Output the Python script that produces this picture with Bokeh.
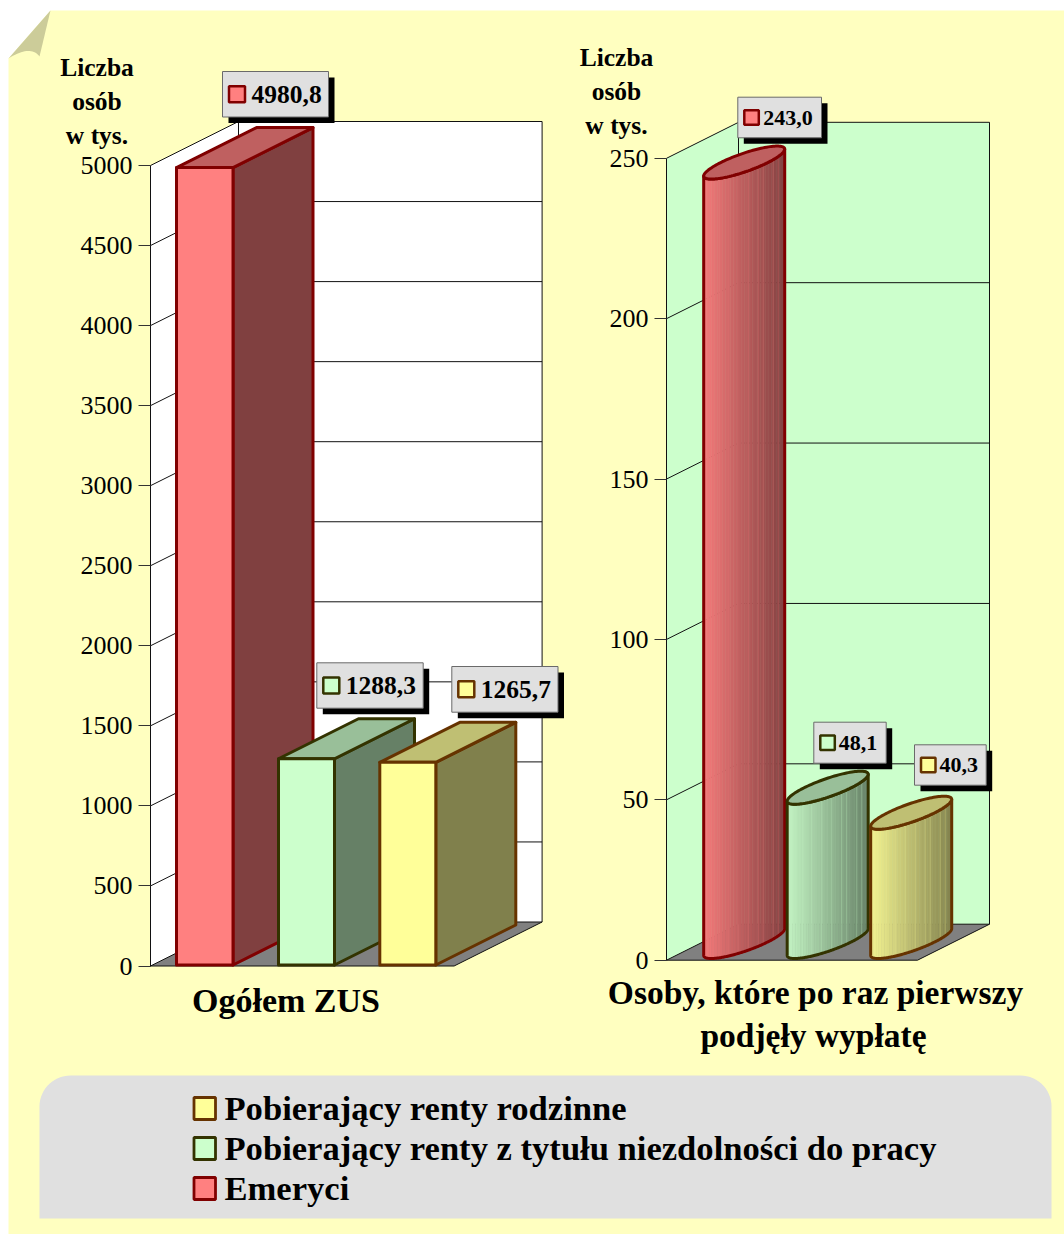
import numpy as np
from bokeh.plotting import figure
from bokeh.models import Range1d, LinearAxis, FixedTicker
from bokeh.core.properties import value
from bokeh.embed import file_html
from bokeh.resources import INLINE

# ---------- data ----------
series_names = ["Pobierający renty rodzinne", "Pobierający renty z tytułu niezdolności do pracy", "Emeryci"]
ogolem_zus = [4980.8, 1288.3, 1265.7]          # Emeryci, renty niezd., renty rodz.
pierwsza_wyplata = [243.0, 48.1, 40.3]
left_ticks = [0, 500, 1000, 1500, 2000, 2500, 3000, 3500, 4000, 4500, 5000]
right_ticks = [0, 50, 100, 150, 200, 250]
axis_title = ["Liczba", "osób", "w tys."]
left_title = ["Ogółem ZUS"]
right_title = ["Osoby, które po raz pierwszy", "podjęły wypłatę"]
fills = ["#FF8080", "#CCFFCC", "#FFFF99"]
edges = ["#800000", "#333300", "#663300"]

SERIF = value("Liberation Serif")
W, H = 1064, 1234


def rgb(c):
    return np.array([int(c[i:i + 2], 16) for i in (1, 3, 5)], float)


def shade(c, f):
    r = np.clip(rgb(c) * f, 0, 255).round().astype(int)
    return "#%02x%02x%02x" % tuple(r)


p = figure(width=W, height=H, x_range=Range1d(0, W), y_range=Range1d(H, 0),
           toolbar_location=None, output_backend="svg", min_border=0,
           x_axis_location=None, y_axis_location=None, outline_line_color=None,
           background_fill_color="white", border_fill_color="white")
p.grid.visible = False

# value scales of the two plots, expressed on the page
L0, LK = 965.5, 800.5 / 5000
R0, RK = 959.7, (959.7 - 157.8) / 250
p.extra_y_ranges["left"] = Range1d((L0 - H) / LK, L0 / LK)
p.extra_y_ranges["right"] = Range1d((R0 - H) / RK, R0 / RK)

# ---------- page ----------
p.patch([8, 50, 1064, 1064, 8], [58, 10, 10, 1234, 1234], fill_color="#FFFFC0", line_color=None)
t = np.linspace(0, 1, 20)
fx = list(50 - 11 * t) + list((1 - t) ** 2 * 39 + 2 * t * (1 - t) * 30 + t ** 2 * 8)
fy = list(10 + 46 * t) + list((1 - t) ** 2 * 56 + 2 * t * (1 - t) * 44 + t ** 2 * 58)
p.patch(fx, fy, fill_color="#CCCC99", line_color=None)

# ---------- legend panel ----------
a = np.linspace(np.pi, 1.5 * np.pi, 16)
r = 31
px = list(39 + r + r * np.cos(a)) + list(1051 - r - r * np.cos(a[::-1])) + [1051, 39]
py = list(1075 + r + r * np.sin(a)) + list(1075 + r + r * np.sin(a[::-1])) + [1218, 1218]
p.patch(px, py, fill_color="#E0E0E0", line_color=None)
for i, name in enumerate(series_names):
    k = 2 - i
    yc = 1108 + 40 * i
    p.quad(left=[193.5], right=[215], top=[yc - 11], bottom=[yc + 11], fill_color=fills[k],
           line_color=edges[k], line_width=2.8)
    p.text([224], [yc - 1], text=[name], text_font=SERIF, text_font_style="bold",
           text_font_size="34.6px", text_baseline="middle", text_align="left", text_color="black")


def walls(rng, x0, x1, xr, dx, top, dy_val, ticks, wall):
    """x0 front-left, x1 back-left, xr back-right, xf front-right"""
    xf = xr - dx
    kw = dict(y_range_name=rng)
    p.patch([x0, x1, x1, x0], [0, dy_val, top + dy_val, top], fill_color=wall, line_color=None, **kw)
    p.patch([x1, xr, xr, x1], [dy_val, dy_val, top + dy_val, top + dy_val], fill_color=wall,
            line_color=None, **kw)
    p.patch([x0, x1, xr, xf], [0, dy_val, dy_val, 0], fill_color="#808080", line_color=None, **kw)
    n = len(ticks)
    p.segment([x1] * n, [v + dy_val for v in ticks], [xr] * n, [v + dy_val for v in ticks],
              line_color="#111111", line_width=1, **kw)
    p.segment([x0] * n, list(ticks), [x1] * n, [v + dy_val for v in ticks],
              line_color="#111111", line_width=1, **kw)
    p.line([x1, x1], [dy_val, top + dy_val], line_color="#111111", line_width=1, **kw)
    p.line([xr, xr], [dy_val, top + dy_val], line_color="#111111", line_width=1, **kw)
    p.line([xf, xr], [0, dy_val], line_color="#111111", line_width=1, **kw)
    p.line([x0, xf], [0, 0], line_color="#111111", line_width=1, **kw)


def axis(rng, x, ticks):
    ax = LinearAxis(y_range_name=rng, fixed_location=x, ticker=FixedTicker(ticks=ticks),
                    bounds=(ticks[0], ticks[-1]))
    ax.major_tick_in = 0
    ax.major_tick_out = 12
    ax.minor_tick_line_color = None
    ax.major_tick_line_color = "#333333"
    ax.axis_line_color = "#111111"
    ax.major_label_text_font = "Liberation Serif"
    ax.major_label_text_font_size = "26px"
    ax.major_label_text_color = "black"
    ax.major_label_standoff = 6
    p.add_layout(ax, "left")


def tag(x0, x1, y0, y1, col, edge, label, size, sw, gap):
    p.quad(left=[x0 + 6], right=[x1 + 6], top=[y0 + 6], bottom=[y1 + 6], fill_color="black", line_color=None)
    p.quad(left=[x0], right=[x1], top=[y0], bottom=[y1], fill_color="#E0E0E0", line_color="#6a6a6a", line_width=1)
    yc = (y0 + y1) / 2
    p.quad(left=[x0 + 6.5], right=[x0 + 6.5 + sw], top=[yc - sw / 2], bottom=[yc + sw / 2],
           fill_color=col, line_color=edge, line_width=2.5)
    p.text([x0 + 6.5 + sw + gap], [yc], text=[label], text_font=SERIF, text_font_style="bold",
           text_font_size=size, text_baseline="middle", text_align="left", text_color="black")


# ---------- left plot ----------
walls("left", 150, 238, 541.6, 88, 5000, 44 / LK, left_ticks, "white")
base = 1 / LK
bar_x = [176, 278, 379.3]
bar_w = [56.5, 56, 56]
depth_x, depth_y = 80, 40 / LK
for v, x, w, f, e in zip(ogolem_zus, bar_x, bar_w, fills, edges):
    top = v + base
    kw = dict(y_range_name="left", line_color=e, line_width=3, line_join="round")
    p.patch([x + w, x + w + depth_x, x + w + depth_x, x + w], [base, base + depth_y, top + depth_y, top],
            fill_color=shade(f, 0.5), **kw)
    p.patch([x, x + w, x + w + depth_x, x + depth_x], [top, top, top + depth_y, top + depth_y],
            fill_color=shade(f, 0.75), **kw)
    p.patch([x, x + w, x + w, x], [base, base, top, top], fill_color=f, **kw)
axis("left", 150, left_ticks)

# ---------- right plot ----------
walls("right", 666, 738, 989, 72, 250, 36 / RK, right_ticks, "#CCFFCC")
cyl_x = [743.7, 827.2, 910.7]
ew, ed = 47, 66
HALF = np.hypot(ew, ed) / 2
base_c = (R0 - 941.5) / RK
t0 = np.arctan2(ed, ew)
tt = np.linspace(t0 - np.pi, t0, 121)
ux = ew / 2 * np.cos(tt) + ed / 2 * np.sin(tt)
uy = ed / 4 * np.sin(tt) / RK
edges_x = np.linspace(-HALF, HALF, 31)
low = np.interp(edges_x, ux, uy)
seams = np.array([-25, -16, -6, 4, 14, 19, 29, 34])
seam_low = np.interp(seams, ux, uy)
for v, cx, f, e in zip(pierwsza_wyplata, cyl_x, fills, edges):
    top = v + base_c
    xs, ys, cs = [], [], []
    for i in range(len(edges_x) - 1):
        xa, xb = cx + edges_x[i], cx + edges_x[i + 1]
        xs.append([xa, xb, xb, xa])
        ys.append([base_c + low[i], base_c + low[i + 1], top + low[i + 1], top + low[i]])
        frac = i / (len(edges_x) - 2)
        cs.append(shade(f, 0.95 - 0.43 * frac))
    p.patches(xs, ys, fill_color=cs, line_color=cs, line_width=0.6, y_range_name="right")
    n = len(seams)
    p.segment(list(cx + seams), list(base_c + seam_low), list(cx + seams), list(top + seam_low),
              line_color=shade(f, 0.95), line_alpha=0.3, line_width=1, y_range_name="right")
    full = np.linspace(0, 2 * np.pi, 121)
    ex = cx + ew / 2 * np.cos(full) + ed / 2 * np.sin(full)
    ey = top + ed / 4 * np.sin(full) / RK
    sx = list(cx + ux) + list(cx + ux[::-1])
    sy = list(base_c + uy) + list(top + uy[::-1])
    p.patch(sx, sy, fill_color=None, line_color=e, line_width=3, line_join="round", y_range_name="right")
    p.patch(list(ex), list(ey), fill_color=shade(f, 0.75), line_color=e, line_width=3, y_range_name="right")
axis("right", 666, right_ticks)

# ---------- value tags ----------
fmt = lambda v: f"{v:.1f}".replace(".", ",")
tag(222, 328, 71, 116.5, fills[0], edges[0], fmt(ogolem_zus[0]), "25.5px", 16, 6.5)
tag(316.3, 422.7, 662.3, 707.7, fills[1], edges[1], fmt(ogolem_zus[1]), "25.5px", 16, 6.5)
tag(451.3, 557.5, 666, 711.7, fills[2], edges[2], fmt(ogolem_zus[2]), "25.5px", 16, 6.5)
tag(737.3, 821, 96.7, 137.3, fills[0], edges[0], fmt(pierwsza_wyplata[0]), "22px", 14.5, 4.5)
tag(813.3, 885.7, 721.7, 762.7, fills[1], edges[1], fmt(pierwsza_wyplata[1]), "22px", 14.5, 4)
tag(914, 985.7, 744.3, 784.7, fills[2], edges[2], fmt(pierwsza_wyplata[2]), "22px", 14.5, 4)

# ---------- titles ----------
for cx, y0 in ((96.5, 67), (616, 57)):
    for i, s in enumerate(axis_title):
        p.text([cx], [y0 + 34 * i], text=[s], text_font=SERIF, text_font_style="bold", text_font_size="25.5px",
               text_align="center", text_baseline="middle", text_color="black")
p.text([285.5], [1000], text=left_title, text_font=SERIF, text_font_style="bold", text_font_size="34px",
       text_align="center", text_baseline="middle", text_color="black")
for s, cx, y in zip(right_title, (815, 813), (992, 1035)):
    p.text([cx], [y], text=[s], text_font=SERIF, text_font_style="bold", text_font_size="33.5px",
           text_align="center", text_baseline="middle", text_color="black")

open("out.html", "w").write(file_html(p, INLINE))
